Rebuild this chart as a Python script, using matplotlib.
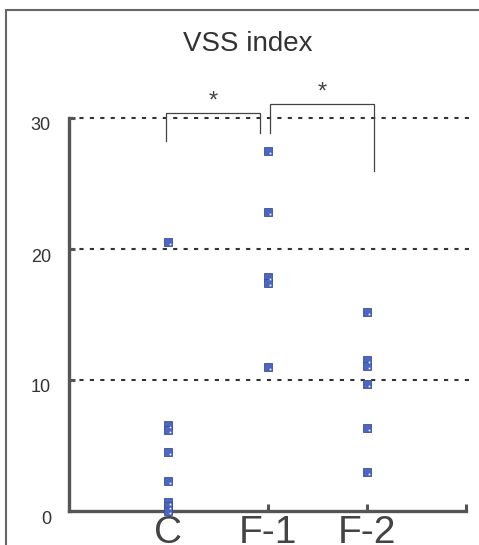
import matplotlib
matplotlib.use("Agg")
import matplotlib.pyplot as plt
from matplotlib.patches import Rectangle
from matplotlib.transforms import ScaledTranslation

plt.rcParams["font.family"] = ["Liberation Sans", "DejaVu Sans"]

GROUPS = ["C", "F-1", "F-2"]
VSS_C = [20.5, 6.6, 6.2, 4.5, 2.3, 0.7, 0.35, 0.0]
VSS_F1 = [27.5, 22.8, 17.9, 17.4, 11.0]
VSS_F2 = [15.2, 11.5, 11.1, 9.7, 6.3, 3.0]
Y_TICKS = [0, 10, 20, 30]

# significance brackets: (x_left, x_right, top, left leg bottom, right leg bottom)
BRACKETS = [
    (0.98, 1.92, 30.4, 28.25, 28.85),
    (2.03, 3.07, 31.05, 28.85, 25.95),
]
STAR = "*"

INK = "#444444"
DOT = "#4d66bf"
DOT_EDGE = "#3a4f9e"

fig = plt.figure(figsize=(4.79, 5.45), dpi=100)
ax = fig.add_axes([69 / 479, 1 - 511 / 545, 397 / 479, 393 / 545])

# outer frame around the whole panel
fig.add_artist(Rectangle((6 / 479, -0.05), 1.2, 1 - 10 / 545 + 0.05,
                         transform=fig.transFigure, fill=False,
                         edgecolor="#666666", linewidth=1.5))

fig.text(248 / 479, 1 - 44 / 545, "VSS index", ha="center", va="center",
         fontsize=20, color="#333333")

# dashed reference lines at the labelled levels
ax.hlines(Y_TICKS[1:], 0, 4.04, colors="#333333", linestyles=(0, (2, 3)),
          linewidth=1.5, clip_on=False, zorder=1)

hl = ScaledTranslation(0.02, -0.02, fig.dpi_scale_trans)
for i, vals in enumerate([VSS_C, VSS_F1, VSS_F2], start=1):
    xs = [i] * len(vals)
    ax.plot(xs, vals, ls="none", marker="s", markersize=5.6, color=DOT,
            markeredgecolor=DOT_EDGE, markeredgewidth=0.6,
            clip_on=False, zorder=3)
    ax.plot(xs, vals, ls="none", marker="s", markersize=1.2, color="white",
            markeredgewidth=0, transform=ax.transData + hl,
            clip_on=False, zorder=4)

for x0, x1, top, lb, rb in BRACKETS:
    ax.plot([x0, x0, x1, x1], [lb, top, top, rb], color=INK,
            linewidth=0.9, clip_on=False, zorder=2)
    ax.text((x0 + x1) / 2, top + 0.05, STAR, ha="center", va="bottom",
            fontsize=17, color=INK, clip_on=False)

ax.set_xlim(0, 4)
ax.set_ylim(0, 30)
ax.set_xticks([1, 2, 3, 4])
ax.set_xticklabels(GROUPS + [""])
ax.set_yticks(Y_TICKS)

for side in ("top", "right"):
    ax.spines[side].set_visible(False)
for side in ("left", "bottom"):
    ax.spines[side].set_linewidth(2.4)
    ax.spines[side].set_color("#555555")

ax.tick_params(axis="y", direction="in", length=4, width=2.2, color="#555555",
               labelsize=13, labelcolor="#333333", pad=13)
ax.tick_params(axis="x", direction="in", length=5, width=2.2, color="#555555",
               labelsize=28, labelcolor="#444444", pad=3)

shift = ScaledTranslation(0, -0.06, fig.dpi_scale_trans)
for lab in ax.get_yticklabels():
    lab.set_transform(lab.get_transform() + shift)

fig.savefig("out.png", dpi=100)
